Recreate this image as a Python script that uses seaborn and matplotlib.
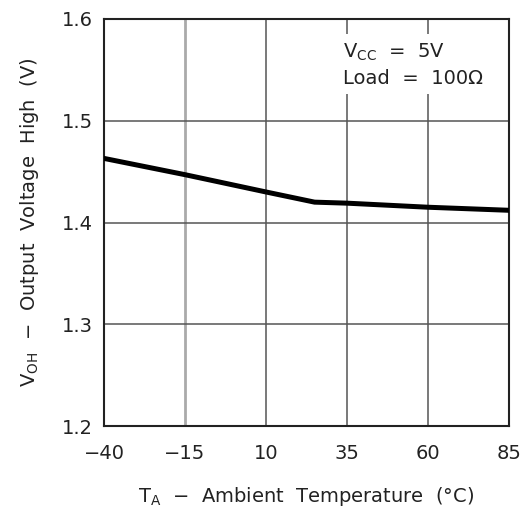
import matplotlib
matplotlib.use("Agg")
import matplotlib.pyplot as plt
import seaborn as sns
import pandas as pd

temps = [-40, -15, 10, 25, 35, 60, 85]
voh = [1.463, 1.447, 1.430, 1.420, 1.419, 1.415, 1.412]
x_ticks = [-40, -15, 10, 35, 60, 85]
y_ticks = [1.2, 1.3, 1.4, 1.5, 1.6]

sns.set_style("white")
plt.rcParams['font.family'] = ['DejaVu Sans']

df = pd.DataFrame({"T": temps, "V": voh})

fig = plt.figure(figsize=(5.25, 5.18), dpi=100)
ax = fig.add_axes([104/525, 1-426/518, (509-104)/525, (426-19)/518])

for xt in x_ticks[1:-1]:
    if xt == -15:
        ax.axvline(xt, color="#aaaaaa", lw=2.0, zorder=1)
    else:
        ax.axvline(xt, color="#555555", lw=1.1, zorder=1)
for yt in y_ticks[1:-1]:
    ax.axhline(yt, color="#555555", lw=1.1, zorder=1)

sns.lineplot(data=df, x="T", y="V", color="black", lw=3.6, ax=ax, zorder=3)

ax.set_xlim(-40, 85)
ax.set_ylim(1.2, 1.6)
ax.set_xticks(x_ticks)
ax.set_yticks(y_ticks)
ax.set_xticklabels([f"\u2212{abs(v)}" if v < 0 else str(v) for v in x_ticks])
ax.set_yticklabels([f"{v:.1f}" for v in y_ticks])
ax.tick_params(axis="both", length=0, labelsize=14, colors="#222222")
ax.tick_params(axis="x", pad=13)
ax.tick_params(axis="y", pad=8)
for s in ax.spines.values():
    s.set_color("#222222")
    s.set_linewidth(1.5)

ax.set_xlabel("T$_{\\mathrm{A}}$  \u2212  Ambient  Temperature  (\u00b0C)", fontsize=14, labelpad=16, color="#222222")
ax.set_ylabel("V$_{\\mathrm{OH}}$  \u2212  Output  Voltage  High  (V)", fontsize=14, labelpad=15, color="#222222")

ax.text(0.59, 0.945, "V$_{\\mathrm{CC}}$  =  5V\nLoad  =  100\u03a9", transform=ax.transAxes,
        ha="left", va="top", fontsize=14, color="#222222", linespacing=1.45,
        bbox=dict(facecolor="white", edgecolor="none", pad=4), zorder=4)

fig.savefig("out.png", dpi=100)
